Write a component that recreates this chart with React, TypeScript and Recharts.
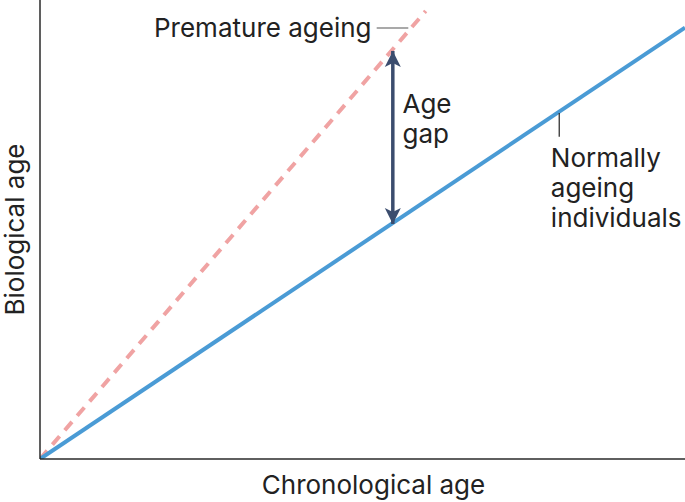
import React from 'react';
import { LineChart, Line, XAxis, YAxis, ReferenceLine, ReferenceDot } from 'recharts';

// chronological age (x) vs biological age (y), arbitrary 0-100 scale
const normalAgeing = [
  { x: 0, y: 0 },
  { x: 100, y: 94 },
];
const prematureAgeing = [
  { x: 0, y: 0 },
  { x: 59.8, y: 97.6 },
];
const ageGap = [
  { x: 54.7, y: 51.2 },
  { x: 54.7, y: 88.9 },
];
const prematureConnector = [
  { x: 52.2, y: 93.9 },
  { x: 57.1, y: 93.9 },
];
const normalConnector = [
  { x: 80.5, y: 75.4 },
  { x: 80.5, y: 70.2 },
];
const xTitle = 'Chronological age';
const yTitle = 'Biological age';
const prematureLabel = { x: 51.4, y: 92.0, text: 'Premature ageing' };
const gapLabel = { x: 56.2, y: 75.4, lines: ['Age', 'gap'] };
const normalLabel = { x: 79.2, y: 63.6, lines: ['Normally', 'ageing', 'individuals'] };

const FONT = 'Inter, sans-serif';
const TXT = '#222';
const FS = 26;

const ArrowDot = (props: any) => {
  const { cx, cy, index } = props;
  if (cx == null || cy == null) return null;
  const up = index === 1;
  const w = 8;
  const h = 16;
  const d = up
    ? `M${cx},${cy} L${cx - w},${cy + h} L${cx},${cy + h - 4} L${cx + w},${cy + h} Z`
    : `M${cx},${cy} L${cx - w},${cy - h} L${cx},${cy - h + 4} L${cx + w},${cy - h} Z`;
  return <path key={`ad-${index}`} d={d} fill="#3b4d6e" stroke="none" />;
};

const MultiText = (lines: string[], anchor: 'start' | 'end', lh: number) => (props: any) => {
  const { cx, cy } = props;
  return (
    <text x={cx} y={cy} fontFamily={FONT} fontSize={FS} fill={TXT} textAnchor={anchor}>
      {lines.map((l, i) => (
        <tspan key={i} x={cx} dy={i === 0 ? 0 : lh}>
          {l}
        </tspan>
      ))}
    </text>
  );
};

export default function App() {
  return (
    <div style={{ position: 'absolute', left: 0, top: 0, background: '#fff' }}>
      <LineChart width={685} height={502} margin={{ top: 0, right: 0, bottom: 0, left: 0 }}>
        <XAxis
          type="number"
          dataKey="x"
          domain={[0, 100]}
          allowDataOverflow
          tick={false}
          tickLine={false}
          height={43}
          axisLine={{ stroke: '#2a2a2a', strokeWidth: 1.5 }}
          label={{
            content: (p: any) => {
              const vb = p.viewBox;
              return (
                <text x={vb.x + vb.width / 2 + 11} y={vb.y + 35} textAnchor="middle" fontFamily={FONT} fontSize={FS} fill={TXT}>
                  {xTitle}
                </text>
              );
            },
          }}
        />
        <YAxis
          type="number"
          dataKey="y"
          domain={[0, 100]}
          allowDataOverflow
          tick={false}
          tickLine={false}
          width={40}
          axisLine={{ stroke: '#2a2a2a', strokeWidth: 1.5 }}
          label={{
            content: (p: any) => {
              const vb = p.viewBox;
              const cx = 24;
              const cy = vb.y + vb.height / 2;
              return (
                <text x={cx} y={cy} transform={`rotate(-90, ${cx}, ${cy})`} textAnchor="middle" fontFamily={FONT} fontSize={FS} fill={TXT}>
                  {yTitle}
                </text>
              );
            },
          }}
        />
        <Line
          data={prematureAgeing}
          dataKey="y"
          stroke="#f0a3a3"
          strokeWidth={4}
          strokeDasharray="11 8"
          dot={false}
          isAnimationActive={false}
        />
        <Line
          data={normalAgeing}
          dataKey="y"
          stroke="#4a9bd5"
          strokeWidth={4}
          dot={false}
          isAnimationActive={false}
        />
        <Line
          data={ageGap}
          dataKey="y"
          stroke="#3b4d6e"
          strokeWidth={3.5}
          dot={<ArrowDot />}
          isAnimationActive={false}
        />
        <ReferenceLine segment={prematureConnector} stroke="#555" strokeWidth={1.2} />
        <ReferenceLine segment={normalConnector} stroke="#222" strokeWidth={1.2} />
        <ReferenceDot
          x={prematureLabel.x}
          y={prematureLabel.y}
          r={0}
          shape={MultiText([prematureLabel.text], 'end', 30)}
        />
        <ReferenceDot x={gapLabel.x} y={gapLabel.y} r={0} shape={MultiText(gapLabel.lines, 'start', 30)} />
        <ReferenceDot x={normalLabel.x} y={normalLabel.y} r={0} shape={MultiText(normalLabel.lines, 'start', 30)} />
      </LineChart>
    </div>
  );
}
